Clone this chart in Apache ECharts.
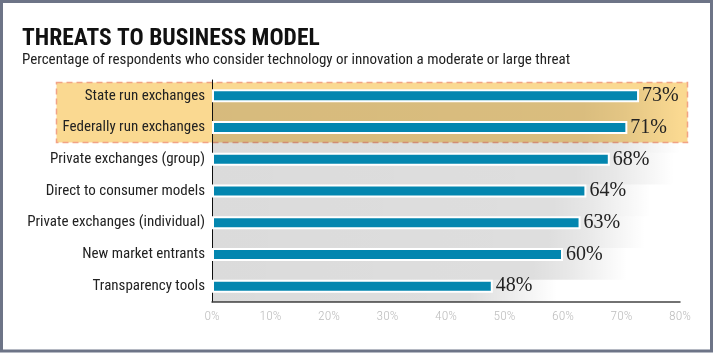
<!DOCTYPE html>
<html><head><meta charset="utf-8">
<script src="https://cdn.jsdelivr.net/npm/echarts@6/dist/echarts.min.js"></script>
<style>html,body{margin:0;padding:0;background:#fff}#c{width:714px;height:353px}</style>
</head><body><div id="c"></div>
<script>
var categories = ['State run exchanges','Federally run exchanges','Private exchanges (group)','Direct to consumer models','Private exchanges (individual)','New market entrants','Transparency tools'];
var values = [73, 71, 68, 64, 63, 60, 48];
var tickLabels = ['0%','10%','20%','30%','40%','50%','60%','70%','80%'];

var NARROW = "'Roboto Condensed','DejaVu Sans Condensed',sans-serif";
var chart = echarts.init(document.getElementById('c'), null, {renderer:'canvas'});

var backdrop = values.map(function(v){
  var len = (v + 11);
  var solidEnd = (v + 1) / len;
  return {value: len, itemStyle:{color:{type:'linear',x:0,y:0,x2:1,y2:0,colorStops:[
    {offset:0,color:'rgba(0,0,0,0.14)'},{offset:solidEnd*0.9,color:'rgba(0,0,0,0.13)'},
    {offset:solidEnd,color:'rgba(0,0,0,0.09)'},{offset:1,color:'rgba(0,0,0,0)'}]}}};
});

chart.setOption({
  animation:false,
  graphic:[
    {type:'rect', z:-20, shape:{x:1.5,y:1.5,width:710,height:349.5}, style:{fill:'#fff',stroke:'#6d7487',lineWidth:3}},
    {type:'rect', z:-10, shape:{x:56.5,y:82.5,width:631,height:60}, style:{fill:'#fad991',stroke:'#f2a385',lineWidth:1.5,lineDash:[6,4]}},
    {type:'text', x:22, y:26, scaleX:0.96, style:{text:'THREATS TO BUSINESS MODEL', font:"bold 24.5px "+NARROW, fill:'#111'}},
    {type:'text', x:22, y:53, style:{text:'Percentage of respondents who consider technology or innovation a moderate or large threat', font:"15px "+NARROW, fill:'#222'}}
  ],
  grid:{left:212, right:34, top:80, bottom:51, containLabel:false, outerBoundsMode:'none'},
  xAxis:{type:'value', min:0, max:80, interval:10,
    axisLine:{show:true, lineStyle:{color:'#444', width:1.5}},
    axisTick:{show:false}, splitLine:{show:false},
    axisLabel:{color:'#bdbdbd', fontFamily:NARROW, fontWeight:300, fontSize:13.5, margin:8,
      formatter:function(v){ return tickLabels[Math.round(v/10)]; }}},
  yAxis:{type:'category', data:categories, inverse:true,
    axisLine:{show:true, lineStyle:{color:'#111', width:1}},
    axisTick:{show:false},
    axisLabel:{color:'#222', fontFamily:NARROW, fontSize:15, margin:7}},
  series:[
    {type:'bar', data:backdrop, barWidth:'100%', barGap:'-100%', silent:true, z:1},
    {type:'bar', data:values, barWidth:13, barGap:'-100%', z:3,
      itemStyle:{color:'#0386af', borderColor:'#fff', borderWidth:2},
      label:{show:true, position:'right', distance:3, formatter:'{c}%', fontFamily:"'Liberation Serif','DejaVu Serif',serif", fontSize:20, color:'#222'}}
  ]
});
</script></body></html>
